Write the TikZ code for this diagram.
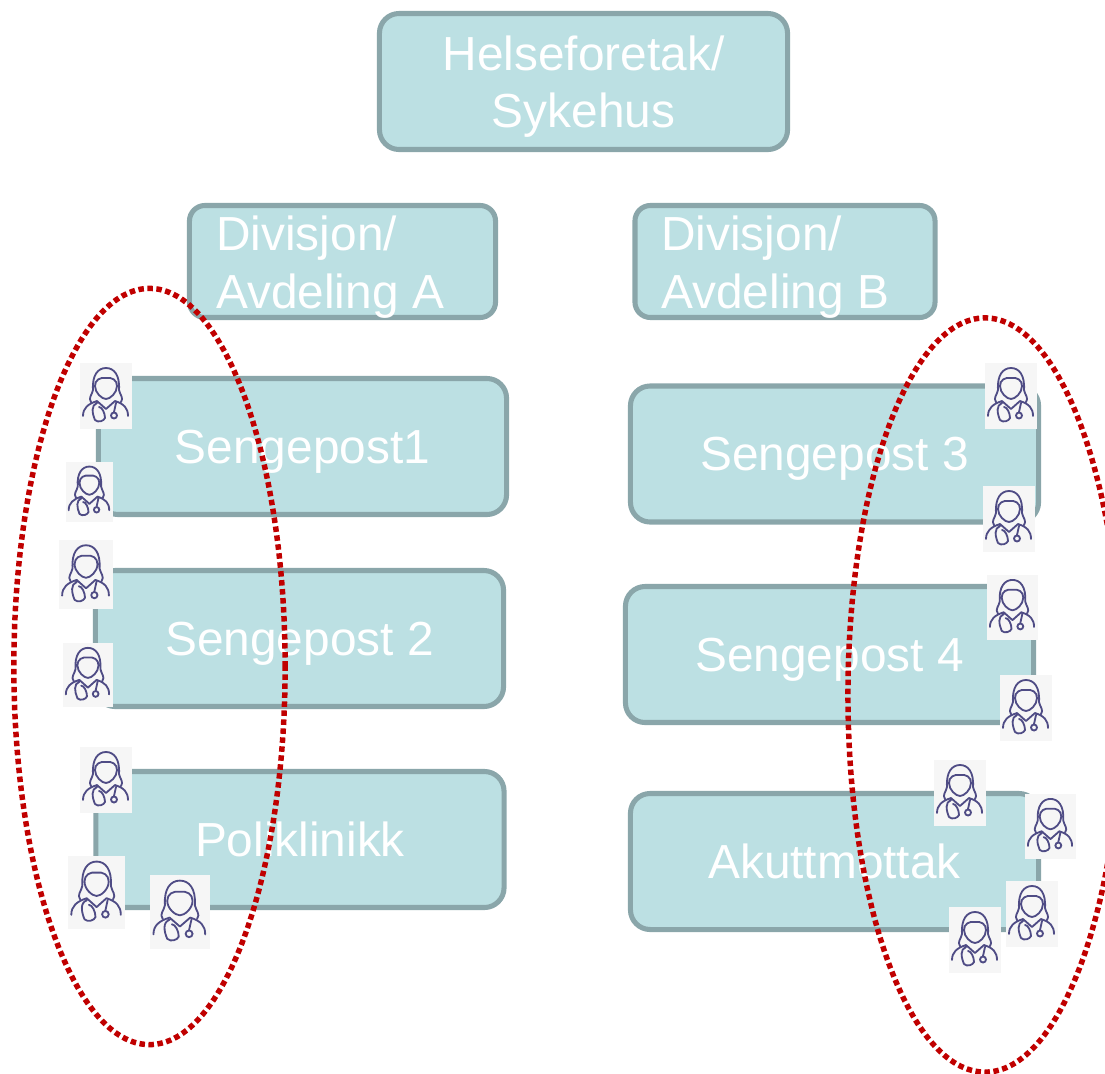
\documentclass[tikz,border=0pt]{standalone}
\usepackage{fontspec}
\setmainfont{Liberation Sans}
\usetikzlibrary{shapes.geometric}
\definecolor{boxfill}{HTML}{BCE0E3}
\definecolor{boxline}{HTML}{8AA6AA}
\definecolor{ringred}{HTML}{C00000}
\definecolor{iconback}{HTML}{F6F6F6}
\definecolor{iconline}{HTML}{4F4C85}

\begin{document}
\begin{tikzpicture}[x=0.025cm, y=-0.025cm,
    unit/.style={rectangle, draw=boxline, fill=boxfill, line width=3.6pt, rounded corners=14pt, text=white, align=center, font=\fontsize{34}{40.2}\selectfont, text depth=0pt, inner sep=0pt, minimum width=#1, minimum height=3.4cm},
    division/.style={rectangle, draw=boxline, fill=boxfill, line width=3.6pt, rounded corners=11pt, minimum height=2.8cm, minimum width=#1, inner sep=0pt},
    divtext/.style={text=white, align=left, anchor=west, inner sep=0pt, font=\fontsize{34}{41.5}\selectfont},
    ring/.style={ellipse, draw=ringred, line width=3.9pt, dash pattern=on 3.9pt off 2.5pt, inner sep=0pt},
    doctor/.pic={
        \fill[iconback] (0,0) rectangle (52,66);
        \draw[iconline, line width=1.3pt, line cap=round, line join=round]
            (11,39) .. controls (8,35) and (12,32) .. (13,27) .. controls (12,12) and (18,5) .. (26,5)
            .. controls (34,5) and (40,12) .. (39,27) .. controls (40,32) and (44,35) .. (41,39)
            (26,15) .. controls (20,14) and (15,17) .. (15,23) .. controls (15,30) and (22,36) .. (26,36)
            .. controls (30,36) and (37,30) .. (37,23) .. controls (37,17) and (32,14) .. (26,15)
            (3,53) .. controls (3,45) and (8,41) .. (17,38) -- (26,46) -- (35,38) .. controls (44,41) and (48,45) .. (48,53)
            (17,40) .. controls (11,42) and (12,50) .. (15,57) .. controls (18,60) and (24,58) .. (25,55)
            .. controls (25,50) and (22,44) .. (19,44)
            (36,40) -- (34,49);
        \draw[iconline, line width=1.3pt] (34,52.5) circle [x radius=3, y radius=3];
    }]

    \clip (0,0) rectangle (1105,1073);

    \node[unit=10.2cm] (top) at (583.5,81.5) {Helseforetak/\\Sykehus};

    \node[division=7.65cm] (divA) at (342.5,261.5) {};
    \node[divtext] (divAtext) at (216,267) {Divisjon/\\Avdeling A};
    \node[division=7.5cm] (divB) at (785,261.5) {};
    \node[divtext] (divBtext) at (661,267) {Divisjon/\\Avdeling B};

    \node[unit=10.2cm] (post1) at (302.5,446.5) {Sengepost1};
    \node[unit=10.2cm] (post2) at (299.5,638.5) {Sengepost 2};
    \node[unit=10.2cm] (poli) at (300,839.5) {Poliklinikk};
    \node[unit=10.2cm] (post3) at (834.5,454) {Sengepost 3};
    \node[unit=10.2cm] (post4) at (829.5,654.5) {Sengepost 4};
    \node[unit=10.2cm] (akutt) at (834.5,861.5) {Akuttmottak};

    \node[ring, minimum width=6.78cm, minimum height=18.9cm] (ringA) at (149.5,666.5) {};
    \node[ring, minimum width=6.85cm, minimum height=18.85cm] (ringB) at (985,695) {};

    % left group
    \pic at (80,363) {doctor};
    \pic[xscale=.9, yscale=.91] at (66,462) {doctor};
    \pic[xscale=1.04, yscale=1.05] at (59,540) {doctor};
    \pic[xscale=.96, yscale=.97] at (63,643) {doctor};
    \pic at (80,747) {doctor};
    \pic[xscale=1.1, yscale=1.11] at (68,856) {doctor};
    \pic[xscale=1.15, yscale=1.12] at (150,875) {doctor};

    % right group
    \pic at (985,363) {doctor};
    \pic at (983,486) {doctor};
    \pic[xscale=.98, yscale=.98] at (987,575) {doctor};
    \pic at (1000,675) {doctor};
    \pic at (934,760) {doctor};
    \pic[xscale=.98, yscale=.98] at (1025,794) {doctor};
    \pic at (1006,881) {doctor};
    \pic at (949,907) {doctor};
\end{tikzpicture}
\end{document}
